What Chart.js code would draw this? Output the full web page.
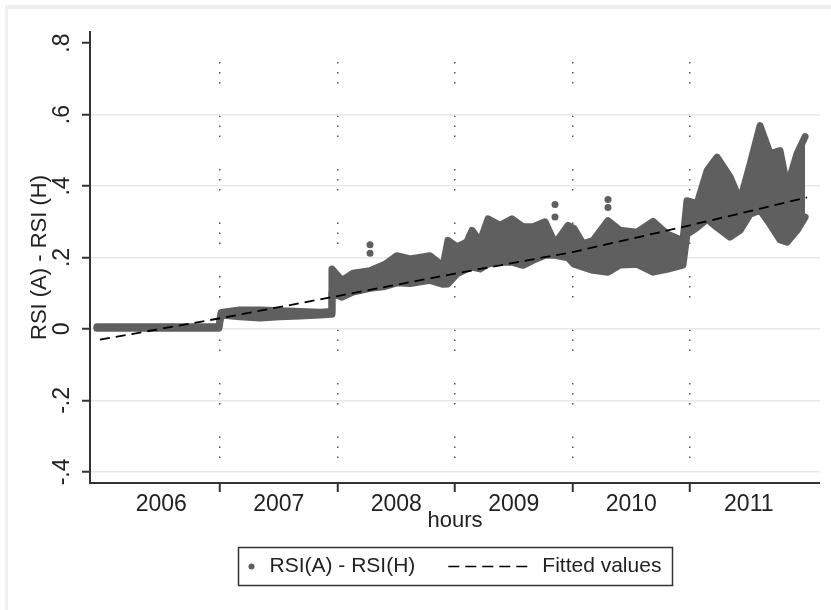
<!DOCTYPE html>
<html>
<head>
<meta charset="utf-8">
<title>RSI(A) - RSI(H) by hours</title>
<script src="https://cdn.jsdelivr.net/npm/chart.js@4.4.1/dist/chart.umd.min.js"></script>
<style>
  html, body { margin: 0; padding: 0; background: #fff; }
  #frame {
    position: absolute; left: 5px; top: 5px; width: 826px; height: 605px;
    border-top: 4px solid #efefef; border-left: 3px solid #efefef; box-sizing: border-box;
  }
  #chart { position: absolute; left: 0; top: 0; }
</style>
</head>
<body>
<div id="frame"></div>
<canvas id="chart" width="831" height="610"></canvas>
<script>
// tick labels
const years = ['2006', '2007', '2008', '2009', '2010', '2011'];
const yearCenters = [2006.5, 2007.5, 2008.5, 2009.5, 2010.5, 2011.5];
const yearBounds = [2007, 2008, 2009, 2010, 2011];
const yTicks = [-0.4, -0.2, 0, 0.2, 0.4, 0.6, 0.8];
const yTickLabels = ['-.4', '-.2', '0', '.2', '.4', '.6', '.8'];

// scatter cloud, read as upper / lower edge of the dots over time
const bandTime = [
  2005.953, 2006.404, 2006.991,
  2007.009, 2007.170, 2007.340, 2007.511, 2007.681, 2007.851, 2007.945,
  2007.953, 2008.038, 2008.132, 2008.277, 2008.404, 2008.506, 2008.617, 2008.787, 2008.898,
  2008.940, 2009.017, 2009.102, 2009.145, 2009.213, 2009.281, 2009.383, 2009.485, 2009.579,
  2009.664, 2009.766, 2009.851, 2009.962, 2010.013, 2010.089, 2010.174, 2010.302, 2010.404,
  2010.549, 2010.685, 2010.804, 2010.940,
  2010.974, 2011.060, 2011.145, 2011.230, 2011.340, 2011.426, 2011.511, 2011.596, 2011.681,
  2011.766, 2011.826, 2011.911, 2011.979
];
const bandUpper = [
  0.006, 0.006, 0.006,
  0.046, 0.053, 0.053, 0.051, 0.049, 0.047, 0.049,
  0.168, 0.136, 0.156, 0.163, 0.181, 0.205, 0.196, 0.205, 0.176,
  0.248, 0.230, 0.244, 0.276, 0.244, 0.308, 0.290, 0.308, 0.286,
  0.286, 0.300, 0.239, 0.290, 0.281, 0.239, 0.247, 0.303, 0.276,
  0.271, 0.301, 0.266, 0.247,
  0.359, 0.351, 0.443, 0.481, 0.426, 0.359, 0.461, 0.569, 0.491,
  0.499, 0.398, 0.491, 0.538
];
const bandLower = [
  0.002, 0.002, 0.002,
  0.039, 0.034, 0.031, 0.034, 0.036, 0.039, 0.041,
  0.101, 0.089, 0.103, 0.114, 0.119, 0.129, 0.127, 0.136, 0.125,
  0.126, 0.154, 0.168, 0.173, 0.168, 0.182, 0.187, 0.187, 0.178,
  0.192, 0.206, 0.206, 0.199, 0.181, 0.173, 0.164, 0.159, 0.179,
  0.181, 0.159, 0.167, 0.179,
  0.265, 0.284, 0.307, 0.284, 0.257, 0.276, 0.321, 0.332, 0.293,
  0.249, 0.243, 0.276, 0.313
];
const outlierTime = [2008.277, 2008.277, 2009.851, 2009.851, 2010.302, 2010.302];
const outlierValue = [0.236, 0.212, 0.348, 0.313, 0.362, 0.340];

// fitted values
const fitTime = [2005.979, 2007.0, 2008.0, 2009.0, 2010.0, 2011.0, 2011.996];
const fitValue = [-0.030, 0.030, 0.092, 0.155, 0.215, 0.290, 0.368];

const FONT = "'Liberation Sans', Arial, sans-serif";
const INK = '#222222';
const DOTS = '#5f5f5f';

const toPoints = (xs, ys) => xs.map((x, i) => ({ x: x, y: ys[i] }));

// Stata style legend: one framed row under the axis title
const boxedLegend = {
  id: 'boxedLegend',
  afterDraw(chart) {
    const ctx = chart.ctx;
    const area = chart.chartArea;
    const fit = chart.data.datasets[0];
    const band = chart.data.datasets[1];
    ctx.save();
    ctx.font = '21px ' + FONT;
    const w1 = ctx.measureText(band.label).width;
    const w2 = ctx.measureText(fit.label).width;
    const boxW = Math.round(169 + w1 + w2);
    const boxH = 38;
    const left = Math.round((area.left + area.right) / 2 - boxW / 2) + 0.5;
    const top = 547.5;
    const cy = top + boxH / 2;

    ctx.lineWidth = 1.5;
    ctx.strokeStyle = '#333';
    ctx.strokeRect(left, top, boxW, boxH);

    let x = left + 10;
    ctx.fillStyle = DOTS;
    ctx.beginPath();
    ctx.arc(x + 3, cy, 3, 0, Math.PI * 2);
    ctx.fill();

    x += 21;
    ctx.fillStyle = INK;
    ctx.textAlign = 'left';
    ctx.textBaseline = 'middle';
    ctx.fillText(band.label, x, cy);

    x += w1 + 33;
    ctx.setLineDash([11, 6]);
    ctx.lineWidth = 1.5;
    ctx.strokeStyle = '#000';
    ctx.beginPath();
    ctx.moveTo(x, cy);
    ctx.lineTo(x + 79, cy);
    ctx.stroke();
    ctx.setLineDash([]);

    x += 80 + 14;
    ctx.fillText(fit.label, x, cy);
    ctx.restore();
  }
};

const isBound = (c) => c.tick && yearBounds.includes(c.tick.value);
const isInner = (c) => c.tick && c.tick.value > -0.41 && c.tick.value < 0.79;

// edge lines are as thick as a marker, so the band reads as a dense cloud of dots
const edgeStyle = {
  borderColor: DOTS,
  backgroundColor: DOTS,
  borderWidth: 7,
  borderJoinStyle: 'round',
  borderCapStyle: 'round',
  pointRadius: 0,
  order: 1
};

new Chart(document.getElementById('chart'), {
  type: 'line',
  data: {
    datasets: [
      {
        label: 'Fitted values',
        data: toPoints(fitTime, fitValue),
        borderColor: '#000',
        borderWidth: 1.8,
        borderDash: [10, 6],
        pointRadius: 0,
        fill: false,
        order: 0
      },
      Object.assign({
        label: 'RSI(A) - RSI(H)',
        data: toPoints(bandTime, bandUpper),
        fill: '+1'
      }, edgeStyle),
      Object.assign({
        label: 'RSI(A) - RSI(H) low',
        data: toPoints(bandTime, bandLower),
        fill: false
      }, edgeStyle),
      {
        label: 'RSI(A) - RSI(H) outliers',
        data: toPoints(outlierTime, outlierValue),
        showLine: false,
        pointRadius: 3.5,
        pointBackgroundColor: DOTS,
        pointBorderWidth: 0,
        fill: false,
        order: 1
      }
    ]
  },
  options: {
    responsive: false,
    animation: false,
    events: [],
    layout: { padding: { top: 32, right: 11, bottom: 76, left: 0 } },
    plugins: {
      legend: { display: false },
      tooltip: { enabled: false }
    },
    scales: {
      x: {
        type: 'linear',
        position: 'bottom',
        min: 2005.894,
        max: 2012.106,
        afterBuildTicks: (s) => {
          s.ticks = yearCenters.concat(yearBounds).sort((a, b) => a - b).map(v => ({ value: v }));
        },
        afterFit: (s) => { s.height = 51; },
        ticks: {
          autoSkip: false,
          minRotation: 0,
          maxRotation: 0,
          padding: -1,
          color: INK,
          font: { family: FONT, size: 23 },
          callback: (v) => {
            const i = yearCenters.indexOf(v);
            return i >= 0 ? years[i] : '';
          }
        },
        grid: {
          color: (c) => isBound(c) ? '#555' : 'transparent',
          lineWidth: (c) => isBound(c) ? 1.5 : 0,
          tickLength: 9,
          tickColor: (c) => isBound(c) ? '#333' : 'transparent',
          tickWidth: (c) => isBound(c) ? 2 : 0,
          tickBorderDash: []
        },
        border: {
          color: '#333',
          width: 2,
          dash: [1.5, 8.5, 1.5, 8.5, 1.5, 32],
          dashOffset: 23.5
        },
        title: {
          display: true,
          text: 'hours',
          color: INK,
          font: { family: FONT, size: 22 },
          padding: { top: 0, bottom: 0 }
        }
      },
      y: {
        type: 'linear',
        min: -0.431,
        max: 0.831,
        afterBuildTicks: (s) => { s.ticks = yTicks.map(v => ({ value: v })); },
        afterFit: (s) => { s.width = 90; },
        ticks: {
          minRotation: 90,
          maxRotation: 90,
          crossAlign: 'center',
          padding: 6,
          color: INK,
          font: { family: FONT, size: 23 },
          callback: (v, i) => yTickLabels[i]
        },
        grid: {
          color: (c) => isInner(c) ? '#e8e8e8' : 'transparent',
          lineWidth: 1.5,
          tickLength: 8,
          tickColor: '#333',
          tickWidth: 2
        },
        border: { color: '#333', width: 2 },
        title: {
          display: true,
          text: 'RSI (A) - RSI (H)',
          color: INK,
          font: { family: FONT, size: 22 },
          padding: { top: 27, bottom: 0 }
        }
      }
    }
  },
  plugins: [boxedLegend]
});
</script>
</body>
</html>
